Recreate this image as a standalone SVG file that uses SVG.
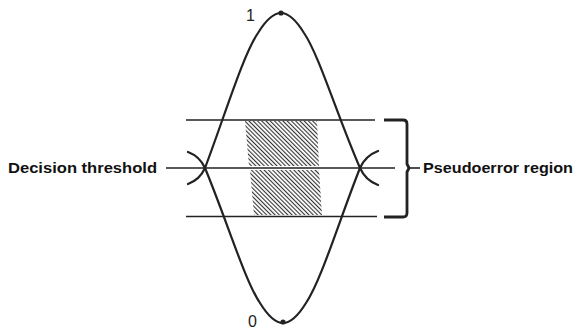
<svg xmlns="http://www.w3.org/2000/svg" width="578" height="332" viewBox="0 0 578 332">
<style>
.crv{fill:none;stroke:#222;stroke-width:2.2;stroke-linecap:round;stroke-linejoin:round}
.ln{fill:none;stroke:#222;stroke-width:1.6}
.br{fill:none;stroke:#222;stroke-width:2.8;stroke-linejoin:round}
.lbl{font-family:"Liberation Sans",Arial,sans-serif;font-weight:bold;font-size:15px;fill:#111}
.num{font-family:"Liberation Sans",Arial,sans-serif;font-size:16px;fill:#222}
</style>
<defs>
<pattern id="hatch" width="3" height="10" patternUnits="userSpaceOnUse" patternTransform="rotate(-45)">
<rect x="0" y="0" width="1.1" height="10" fill="#333"/>
</pattern>
</defs>
<g id="hatched">
<polygon points="245,121 317,121 319,166 249,166" fill="url(#hatch)"/>
<polygon points="250,170 319,170 322,215 254,215" fill="url(#hatch)"/>
</g>
<g id="connectors">
<line class="ln" x1="186" y1="120" x2="375" y2="120"/>
<line class="ln" x1="166" y1="168" x2="395" y2="168"/>
<line class="ln" x1="186" y1="216.5" x2="377" y2="216.5"/>
</g>
<g id="curve1">
<path class="crv" d="M188,184 C196,181 201,177 205,168 C225,115 243,55 258,33 C266,20 273,13 281,13 C289,13 296,20 304,33 C319,55 337,115 360,168 C364,177 370,182 378,185"/>
<circle cx="281" cy="13" r="2.6" fill="#222"/>
<text class="num" x="246" y="21">1</text>
</g>
<g id="curve0">
<path class="crv" d="M188,152 C196,155 201,159 205,168 C227,221 245,281 260,303 C268,316 275,323 283,323 C291,323 298,316 306,303 C321,281 339,221 360,168 C364,159 370,154 378,151"/>
<circle cx="283" cy="322" r="2.6" fill="#222"/>
<text class="num" x="248" y="327">0</text>
</g>
<g id="bracket">
<path class="br" d="M384,120 H403 Q407,120 407,124 V164 L409,168 L407,172 V213 Q407,217 403,217 H384"/>
<line class="ln" x1="408" y1="168" x2="420" y2="168"/>
</g>
<g id="label-threshold">
<text class="lbl" x="8" y="173" textLength="149" lengthAdjust="spacingAndGlyphs">Decision threshold</text>
</g>
<g id="label-pseudo">
<text class="lbl" x="423" y="173" textLength="150" lengthAdjust="spacingAndGlyphs">Pseudoerror region</text>
</g>
</svg>
